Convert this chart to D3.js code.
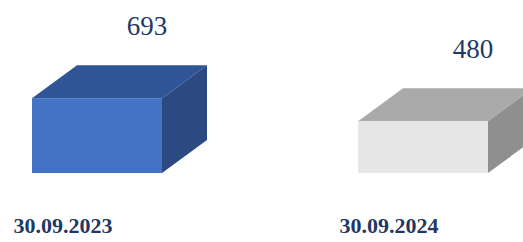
<!DOCTYPE html>
<html>
<head>
<meta charset="utf-8">
<script src="https://cdn.jsdelivr.net/npm/d3@7"></script>
<style>
  body { margin: 0; background: #fff; }
  svg { display: block; }
</style>
</head>
<body>
<div id="chart"></div>
<script>
var categories = ["30.09.2023", "30.09.2024"];
var values = [693, 480];
var frontColors = ["#4472c4", "#e6e6e6"];
var topColors = ["#2f5597", "#aaaaaa"];
var sideColors = ["#2c4a81", "#8f8f8f"];

var width = 523, height = 242;
var baseline = 173;
var boxWidth = 130;
var depthX = 45, depthY = 33;
var serif = "'Times New Roman', 'Liberation Serif', 'DejaVu Serif', serif";

var svg = d3.select("#chart").append("svg")
    .attr("width", width)
    .attr("height", height);

var x = d3.scalePoint().domain(categories).range([97, 423]);
var y = d3.scaleLinear().domain([0, 1000]).range([baseline, 65]);

var data = categories.map(function (c, i) {
    return { cat: c, val: values[i], front: frontColors[i], top: topColors[i], side: sideColors[i] };
});

var box = svg.selectAll("g.box").data(data).enter().append("g").attr("class", "box");

// top face
box.append("path")
    .attr("d", function (d) {
        var x0 = x(d.cat) - boxWidth / 2, x1 = x0 + boxWidth, yt = y(d.val);
        return "M" + x0 + "," + yt + "L" + (x0 + depthX) + "," + (yt - depthY) +
            "L" + (x1 + depthX) + "," + (yt - depthY) + "L" + x1 + "," + yt + "Z";
    })
    .style("fill", function (d) { return d.top; });

// right side
box.append("path")
    .attr("d", function (d) {
        var x1 = x(d.cat) + boxWidth / 2, yt = y(d.val);
        return "M" + x1 + "," + yt + "L" + (x1 + depthX) + "," + (yt - depthY) +
            "L" + (x1 + depthX) + "," + (baseline - depthY) + "L" + x1 + "," + baseline + "Z";
    })
    .style("fill", function (d) { return d.side; });

// front
box.append("rect")
    .attr("x", function (d) { return x(d.cat) - boxWidth / 2; })
    .attr("y", function (d) { return y(d.val); })
    .attr("width", boxWidth)
    .attr("height", function (d) { return baseline - y(d.val); })
    .style("fill", function (d) { return d.front; });

// value labels
box.append("text")
    .attr("x", function (d) { return x(d.cat) + 50; })
    .attr("y", function (d) { return y(d.val) - depthY - 30; })
    .attr("text-anchor", "middle")
    .attr("font-family", serif)
    .attr("font-size", 27)
    .attr("fill", "#1f3864")
    .text(function (d) { return d.val; });

// category labels
box.append("text")
    .attr("x", function (d) { return x(d.cat) - 34; })
    .attr("y", 233)
    .attr("text-anchor", "middle")
    .attr("font-family", serif)
    .attr("font-size", 22)
    .attr("font-weight", "bold")
    .attr("fill", "#1f3864")
    .text(function (d) { return d.cat; });
</script>
</body>
</html>
